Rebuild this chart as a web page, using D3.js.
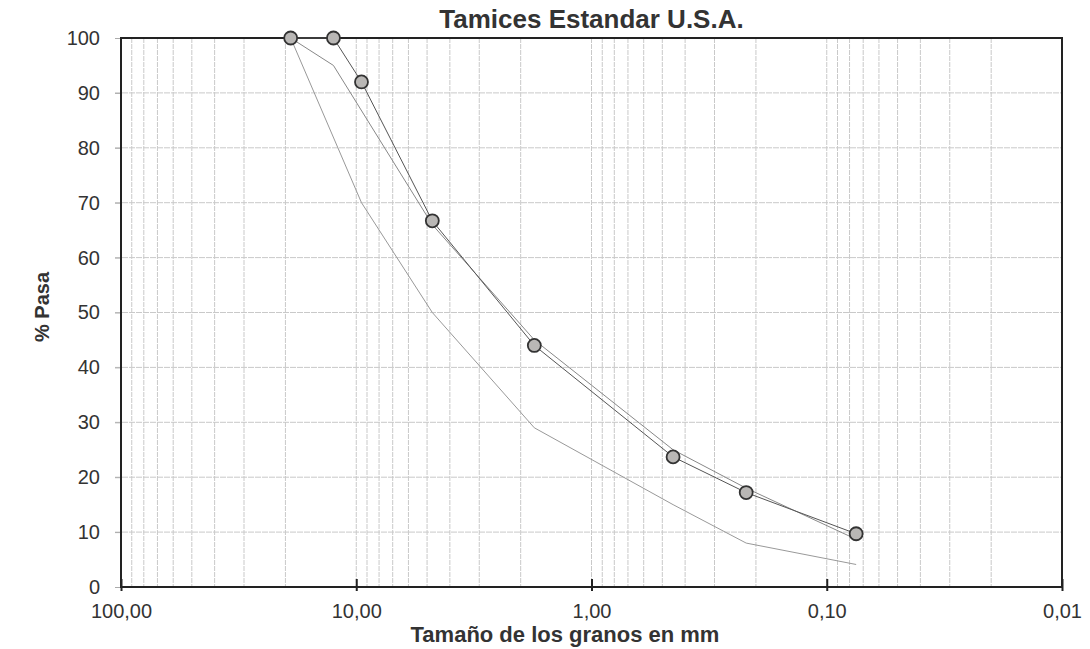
<!DOCTYPE html>
<html lang="en">

<head>
    <meta charset="utf-8">
    <script src='https://d3js.org/d3.v7.min.js'></script>
    <style>
        body { margin: 0; background: #fff; }
        text { font-family: "Liberation Sans", Arial, sans-serif; fill: #333; }
    </style>
</head>

<body>
    <script>
        // sieve sizes (mm) and % passing
        const sampleSize = [19.0, 12.5, 9.5, 4.75, 1.75, 0.45, 0.22, 0.075];
        const samplePass = [100, 100, 92, 66.7, 44, 23.7, 17.2, 9.7];
        const upperSize = [19.0, 12.5, 4.75, 1.75, 0.45, 0.22, 0.075];
        const upperPass = [100, 95, 66, 45, 25, 18, 8.7];
        const lowerSize = [19.0, 9.5, 4.75, 1.75, 0.45, 0.22, 0.075];
        const lowerPass = [100, 70, 50, 29, 15, 8, 4.1];
        const xTicks = [100, 10, 1, 0.1, 0.01];
        const xTickLabels = ["100,00", "10,00", "1,00", "0,10", "0,01"];
        const yTicks = [0, 10, 20, 30, 40, 50, 60, 70, 80, 90, 100];

        const width = 1090;
        const height = 649;
        const mLeft = 121, mRight = 1062, mTop = 38, mBottom = 587;

        const svg = d3.select("body")
            .append("svg")
            .attr("width", width)
            .attr("height", height);

        const x = d3.scaleLog()
            .domain([100, 0.01])
            .range([mLeft, mRight]);
        const y = d3.scaleLinear()
            .domain([0, 100])
            .range([mBottom, mTop]);

        // minor grid: 1..9 in each decade
        const minor = [];
        [10, 1, 0.1, 0.01].forEach(d => {
            for (let k = 1; k <= 9; k++) {
                const v = d * k;
                if (v < 100 && v > 0.01) minor.push(v);
            }
        });
        svg.append("g")
            .selectAll("line")
            .data(minor)
            .enter()
            .append("line")
            .attr("x1", d => x(d))
            .attr("x2", d => x(d))
            .attr("y1", mTop)
            .attr("y2", mBottom)
            .attr("stroke", "#c9c9c9")
            .attr("stroke-width", 1)
            .attr("stroke-dasharray", "5,1");

        // horizontal grid, sticking out left like ticks
        svg.append("g")
            .selectAll("line")
            .data(yTicks.filter(d => d > 0 && d < 100))
            .enter()
            .append("line")
            .attr("x1", mLeft - 6)
            .attr("x2", mRight)
            .attr("y1", d => y(d))
            .attr("y2", d => y(d))
            .attr("stroke", "#c9c9c9")
            .attr("stroke-width", 1)
            .attr("stroke-dasharray", "6,1");

        // y axis labels
        const yAxis = svg.append("g")
            .attr("transform", `translate(${mLeft},0)`)
            .call(d3.axisLeft(y).tickValues(yTicks).tickSize(6).tickPadding(15));
        yAxis.select(".domain").remove();
        yAxis.selectAll("line").attr("stroke", "#aaa");
        yAxis.selectAll("text")
            .style("font-size", "20px")
            .style("font-family", "'Liberation Sans', Arial, sans-serif")
            .attr("fill", "#333");

        // x axis labels and decade ticks
        const xAxis = svg.append("g")
            .attr("transform", `translate(0,${mBottom})`)
            .call(d3.axisBottom(x).tickValues(xTicks)
                .tickFormat((d, i) => xTickLabels[i])
                .tickSizeInner(4).tickSizeOuter(0).tickPadding(13));
        xAxis.select(".domain").remove();
        xAxis.selectAll("line")
            .attr("y1", -8)
            .attr("stroke", "#222")
            .attr("stroke-width", 2);
        xAxis.selectAll("text")
            .style("font-size", "20px")
            .style("font-family", "'Liberation Sans', Arial, sans-serif")
            .attr("fill", "#333");

        // frame
        svg.append("rect")
            .attr("x", mLeft)
            .attr("y", mTop)
            .attr("width", mRight - mLeft)
            .attr("height", mBottom - mTop)
            .attr("fill", "none")
            .attr("stroke", "#222")
            .attr("stroke-width", 2);

        const line = d3.line()
            .x(d => x(d[0]))
            .y(d => y(d[1]));

        // limit lines
        svg.append("path")
            .datum(lowerSize.map((s, i) => [s, lowerPass[i]]))
            .attr("fill", "none")
            .attr("stroke", "#999")
            .attr("stroke-width", 1)
            .attr("d", line);
        svg.append("path")
            .datum(upperSize.map((s, i) => [s, upperPass[i]]))
            .attr("fill", "none")
            .attr("stroke", "#888")
            .attr("stroke-width", 1)
            .attr("d", line);

        // sample curve
        const sample = sampleSize.map((s, i) => [s, samplePass[i]]);
        svg.append("path")
            .datum(sample)
            .attr("fill", "none")
            .attr("stroke", "#555")
            .attr("stroke-width", 1)
            .attr("d", line);
        svg.selectAll("circle.pt")
            .data(sample)
            .enter()
            .append("circle")
            .attr("class", "pt")
            .attr("cx", d => x(d[0]))
            .attr("cy", d => y(d[1]))
            .attr("r", 6.5)
            .attr("fill", "#b9b7b5")
            .attr("stroke", "#333")
            .attr("stroke-width", 1.8);

        // titles
        svg.append("text")
            .attr("x", (mLeft + mRight) / 2)
            .attr("y", 28)
            .attr("text-anchor", "middle")
            .style("font-size", "26px")
            .style("font-weight", "bold")
            .text("Tamices Estandar U.S.A.");

        svg.append("text")
            .attr("x", 565)
            .attr("y", 642)
            .attr("text-anchor", "middle")
            .style("font-size", "22px")
            .style("font-weight", "bold")
            .text("Tamaño de los granos en mm");

        svg.append("text")
            .attr("transform", "translate(49,307) rotate(-90)")
            .attr("text-anchor", "middle")
            .style("font-size", "20px")
            .style("font-weight", "bold")
            .attr("fill", "#444")
            .text("% Pasa");
    </script>

</body>

</html>
